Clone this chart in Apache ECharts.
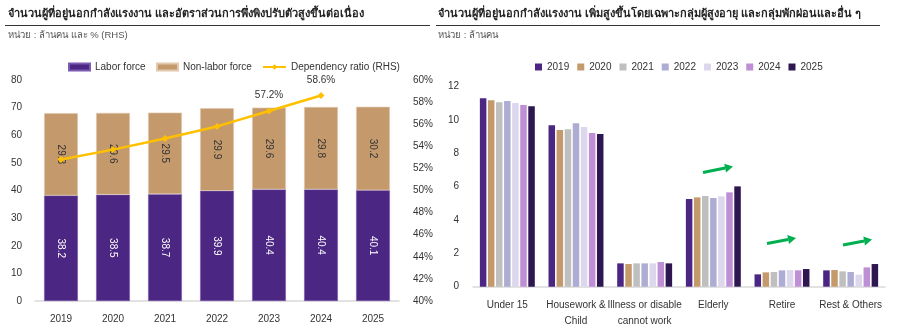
<!DOCTYPE html>
<html><head><meta charset="utf-8">
<script src="https://cdn.jsdelivr.net/npm/echarts@6/dist/echarts.min.js"></script>
<style>html,body{margin:0;padding:0;background:#fff}#c{width:903px;height:335px}</style>
</head><body><div id="c"></div>
<script>
// ---- Left chart data ----
const years = ['2019','2020','2021','2022','2023','2024','2025'];
const laborForce = [38.2, 38.5, 38.7, 39.9, 40.4, 40.4, 40.1];
const nonLaborForce = [29.8, 29.6, 29.5, 29.9, 29.6, 29.8, 30.2];
const dependencyRatio = [52.8, 53.7, 54.7, 55.8, 57.2, 58.6, null];
const ratioLabelShown = [false, false, false, false, true, true, false];
const leftTicks = {min: 0, max: 80, interval: 10};
const rightTicks = {min: 40, max: 60, interval: 2};

// ---- Right chart data ----
const groups = ['Under 15', 'Housework &\nChild', 'Illness or disable\ncannot work', 'Elderly', 'Retire', 'Rest & Others'];
const v2019 = [11.30, 9.68, 1.40, 5.26, 0.74, 0.98];
const v2020 = [11.18, 9.40, 1.36, 5.36, 0.86, 1.00];
const v2021 = [11.06, 9.44, 1.40, 5.44, 0.88, 0.92];
const v2022 = [11.14, 9.80, 1.40, 5.32, 0.98, 0.88];
const v2023 = [11.02, 9.58, 1.40, 5.42, 1.00, 0.72];
const v2024 = [10.90, 9.22, 1.48, 5.66, 0.98, 1.16];
const v2025 = [10.82, 9.16, 1.40, 6.02, 1.06, 1.36];
const yearSeries = [v2019, v2020, v2021, v2022, v2023, v2024, v2025];
const yearColors = ['#4B2683', '#C49A6C', '#BFBFBF', '#ADADD3', '#DCD7EC', '#BF8FD6', '#2E1650'];

const FONT = '"Liberation Sans", Arial, sans-serif';
const TFONT = '"Liberation Sans", "Noto Sans", sans-serif';
const TXT = '#333';
const FS = 10;

const chart = echarts.init(document.getElementById('c'));

function arrow(x1, y1, x2, y2) {
  const ang = Math.atan2(y2 - y1, x2 - x1);
  const L = 8, W = 4.5;
  const bx = x2 - L * Math.cos(ang), by = y2 - L * Math.sin(ang);
  const px = -Math.sin(ang) * W, py = Math.cos(ang) * W;
  return [
    {type: 'line', shape: {x1: x1, y1: y1, x2: bx, y2: by}, style: {stroke: '#00B050', lineWidth: 3}},
    {type: 'polygon', shape: {points: [[x2, y2], [bx + px, by + py], [bx - px, by - py]]}, style: {fill: '#00B050'}}
  ];
}

const graphics = [
  {type: 'text', left: 8, top: 8, style: {text: 'จำนวนผู้ที่อยู่นอกกำลังแรงงาน และอัตราส่วนการพึ่งพิงปรับตัวสูงขึ้นต่อเนื่อง', font: 'bold 11px ' + TFONT, fill: '#222'}},
  {type: 'line', shape: {x1: 5, y1: 25.5, x2: 430, y2: 25.5}, style: {stroke: '#333', lineWidth: 1}},
  {type: 'text', left: 8, top: 30, style: {text: 'หน่วย : ล้านคน และ % (RHS)', font: '9.5px ' + TFONT, fill: '#555'}},
  {type: 'text', left: 438, top: 8, style: {text: 'จำนวนผู้ที่อยู่นอกกำลังแรงงาน เพิ่มสูงขึ้นโดยเฉพาะกลุ่มผู้สูงอายุ และกลุ่มพักผ่อนและอื่น ๆ', font: 'bold 11px ' + TFONT, fill: '#222'}},
  {type: 'line', shape: {x1: 436, y1: 25.5, x2: 880, y2: 25.5}, style: {stroke: '#333', lineWidth: 1}},
  {type: 'text', left: 438, top: 30, style: {text: 'หน่วย : ล้านคน', font: '9.5px ' + TFONT, fill: '#555'}}
].concat(arrow(703, 172.5, 733, 166.5), arrow(767, 243.5, 796, 238), arrow(843, 245, 872, 239.5));

const rightSeries = yearSeries.map((vals, i) => ({
  name: years[i], type: 'bar', xAxisIndex: 1, yAxisIndex: 2,
  data: vals, itemStyle: {color: yearColors[i]},
  barGap: '24%', barCategoryGap: '20%'
}));

const legText = {fontSize: FS, color: TXT, fontFamily: FONT};

chart.setOption({
  animation: false,
  textStyle: {fontFamily: FONT},
  graphic: graphics,
  legend: [
    {left: 63, top: 57, itemWidth: 21, itemHeight: 7, textStyle: legText,
     data: [{name: 'Labor force', icon: 'rect'}]},
    {left: 151, top: 57, itemWidth: 21, itemHeight: 7, textStyle: legText,
     data: [{name: 'Non-labor force', icon: 'rect'}]},
    {left: 257, top: 57, itemWidth: 23, itemHeight: 7, textStyle: legText,
     data: [{name: 'Dependency ratio (RHS)'}]},
    {left: 530, top: 57, itemWidth: 7, itemHeight: 7, itemGap: 8, icon: 'rect',
     textStyle: legText, data: years}
  ],
  grid: [
    {left: 35, right: 504, top: 80, bottom: 34},
    {left: 473, right: 18, top: 86.7, bottom: 48.3}
  ],
  xAxis: [
    {type: 'category', gridIndex: 0, data: years,
     axisLine: {lineStyle: {color: '#D9D9D9', width: 1.5}}, axisTick: {show: false},
     axisLabel: {color: TXT, fontSize: FS, margin: 13}},
    {type: 'category', gridIndex: 1, data: groups,
     axisLine: {lineStyle: {color: '#D9D9D9', width: 1.5}}, axisTick: {show: false},
     axisLabel: {color: TXT, fontSize: FS, margin: 11, lineHeight: 16, interval: 0}}
  ],
  yAxis: [
    {type: 'value', gridIndex: 0, min: leftTicks.min, max: leftTicks.max, interval: leftTicks.interval,
     axisLine: {show: false}, axisTick: {show: false}, splitLine: {show: false},
     axisLabel: {color: TXT, fontSize: FS, margin: 13}},
    {type: 'value', gridIndex: 0, position: 'right', min: rightTicks.min, max: rightTicks.max, interval: rightTicks.interval,
     axisLine: {show: false}, axisTick: {show: false}, splitLine: {show: false},
     axisLabel: {color: TXT, fontSize: FS, margin: 14, formatter: '{value}%'}},
    {type: 'value', gridIndex: 1, min: 0, max: 12, interval: 2,
     axisLine: {show: false}, axisTick: {show: false}, splitLine: {show: false},
     axisLabel: {color: TXT, fontSize: FS, margin: 14}}
  ],
  series: [
    {name: 'Labor force', type: 'bar', stack: 'lf', xAxisIndex: 0, yAxisIndex: 0, data: laborForce, barWidth: '65%',
     itemStyle: {color: '#4B2683', borderColor: '#7A5BAF', borderWidth: 0.6},
     label: {show: true, position: 'inside', rotate: -90, color: '#fff', fontSize: FS, formatter: p => p.value.toFixed(1)}},
    {name: 'Non-labor force', type: 'bar', stack: 'lf', xAxisIndex: 0, yAxisIndex: 0, data: nonLaborForce,
     itemStyle: {color: '#C49A6C', borderColor: '#E1C8AE', borderWidth: 0.6},
     label: {show: true, position: 'inside', rotate: -90, color: '#333', fontSize: FS, formatter: p => p.value.toFixed(1)}},
    {name: 'Dependency ratio (RHS)', type: 'line', xAxisIndex: 0, yAxisIndex: 1,
     data: dependencyRatio.map((v, i) => ({value: v, label: {show: ratioLabelShown[i]}})),
     symbol: 'diamond', symbolSize: 7, lineStyle: {color: '#FFC000', width: 2.5}, itemStyle: {color: '#FFC000'},
     label: {position: 'top', distance: 7, color: '#333', fontSize: FS, formatter: p => p.value.toFixed(1) + '%'}},
  ].concat(rightSeries)
});
</script></body></html>
